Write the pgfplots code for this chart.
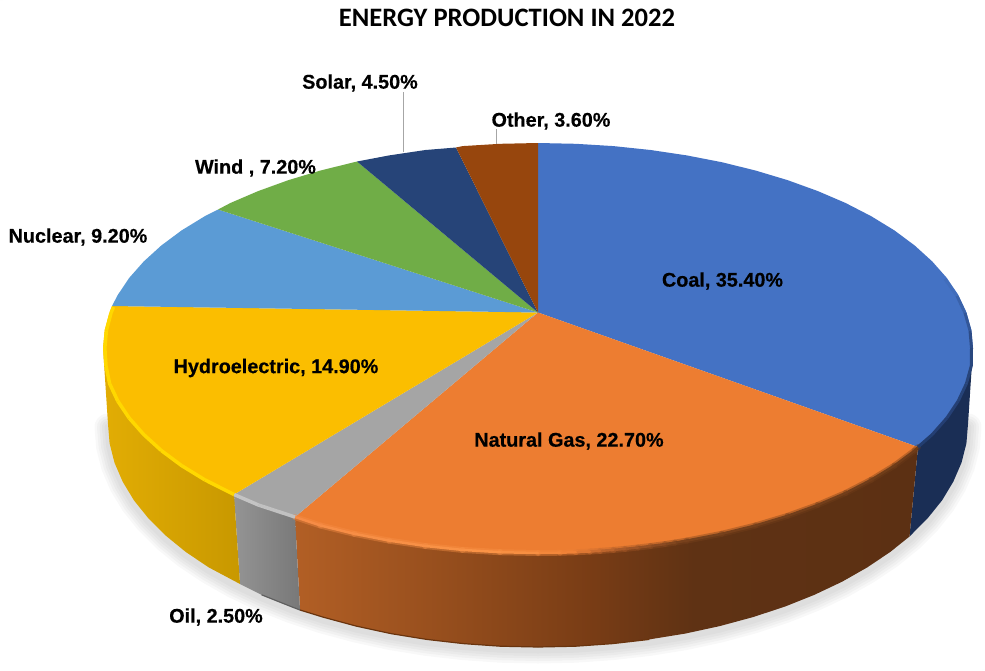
\documentclass[border=0pt]{standalone}
\usepackage{fontspec}
\setmainfont[BoldFeatures={FakeBold=0.4}]{Liberation Sans}
\newfontfamily\titlefont{Carlito}
\usepackage{pgfplots}
\pgfplotsset{compat=1.18}
\definecolor{cCoal}{RGB}{68,114,196}
\definecolor{cGas}{RGB}{237,125,49}
\definecolor{cOil}{RGB}{165,165,165}
\definecolor{cHydro}{RGB}{251,190,0}
\definecolor{cNuc}{RGB}{91,155,213}
\definecolor{cWind}{RGB}{112,173,71}
\definecolor{cSolar}{RGB}{38,68,120}
\definecolor{cOther}{RGB}{151,70,13}
\definecolor{sCoal}{RGB}{26,46,85}
\definecolor{gA}{RGB}{178,95,37}
\definecolor{gB}{RGB}{150,78,29}
\definecolor{gC}{RGB}{120,60,21}
\definecolor{gD}{RGB}{95,50,20}
\definecolor{gE}{RGB}{92,48,19}
\definecolor{nearwhite}{RGB}{254,254,254}
\pgfdeclarehorizontalshading{gasside}{100bp}{color(0bp)=(gA); color(25bp)=(gA); color(37bp)=(gB); color(49bp)=(gC); color(57bp)=(gD); color(75bp)=(gE); color(100bp)=(gE)}
\pgfplotsset{
  colormap={gasrim}{rgb255(0pt)=(246,140,70); rgb255(33pt)=(250,148,70); rgb255(44pt)=(240,130,55); rgb255(48pt)=(205,110,48); rgb255(52pt)=(170,90,40); rgb255(62pt)=(120,65,28); rgb255(100pt)=(110,60,25)},
  colormap={coalrim}{rgb255(0pt)=(68,114,196); rgb255(40pt)=(42,72,128); rgb255(100pt)=(34,60,110)},
  colormap={hydrorim}{rgb255(0pt)=(255,216,0); rgb255(100pt)=(255,216,0)},
  colormap={oilrim}{rgb255(0pt)=(190,190,190); rgb255(50pt)=(205,205,205); rgb255(100pt)=(175,175,175)},
}
\begin{document}
\begin{tikzpicture}
\begin{axis}[
  width=985pt, height=670pt, scale only axis,
  xmin=0, xmax=985, ymin=0, ymax=670, y dir=reverse,
  hide axis,
]
% faint corner ticks hold the full page extent
\addplot[no marks, draw=nearwhite, line width=1pt] coordinates {(0,0.5)(3,0.5)};
\addplot[no marks, draw=nearwhite, line width=1pt] coordinates {(982,669.5)(985,669.5)};
% soft shadow under the pie
\pgfplotsinvokeforeach{27,22,17,12,7}{
\addplot[no marks, draw=black, opacity=0.028, line width=#1pt, line cap=round, yshift=-3pt] coordinates {
(968,424)(966.4,443.4)(961.5,462.7)(953.3,481.7)(942.1,500.3)(927.7,518.2)(910.4,535.5)(890.3,551.9)(867.4,567.3)(842.1,581.7)(814.4,594.8)(784.6,606.7)(753,617.1)(719.7,626.1)(685.1,633.6)(649.3,639.4)(612.6,643.6)(575.5,646.2)(538,647)(500.5,646.2)(463.4,643.6)(426.7,639.4)(390.9,633.6)(356.3,626.1)(323,617.1)(291.4,606.7)(261.6,594.8)(233.9,581.7)(208.6,567.3)(185.7,551.9)(165.6,535.5)(148.3,518.2)(133.9,500.3)(122.7,481.7)(114.5,462.7)(109.6,443.4)(108,424)
};
}
% side walls
\addplot[draw=none, fill=sCoal] coordinates {
(973,348)(971.3,365.9)(966.4,383.6)(958.2,401.1)(946.8,418.1)(932.2,434.6)(918,447)(909.5,536.5)(927.7,518.2)(942.1,500.3)(953.3,481.7)(961.5,462.7)(966.4,443.4)(968,424)
};
\addplot[draw=none, shading=gasside] coordinates {
(918,447)(914.7,450.5)(894.4,465.6)(871.2,479.8)(845.6,493)(817.6,505)(787.5,515.9)(755.5,525.5)(721.8,533.8)(686.8,540.6)(650.6,546)(613.5,549.9)(575.9,552.2)(538,553)(500.1,552.2)(462.5,549.9)(425.4,546)(389.2,540.6)(354.2,533.8)(320.5,525.5)(295,517)(300,610)(323,617.1)(356.3,626.1)(390.9,633.6)(426.7,639.4)(463.4,643.6)(500.5,646.2)(538,647)(575.5,646.2)(612.6,643.6)(649.3,639.4)(685.1,633.6)(719.7,626.1)(753,617.1)(784.6,606.7)(814.4,594.8)(842.1,581.7)(867.4,567.3)(890.3,551.9)(909.5,536.5)
};
\addplot[draw=none, left color={rgb,255:red,148;green,148;blue,148}, right color={rgb,255:red,120;green,120;blue,120}] coordinates {
(295,517)(258.4,505)(234,494.5)(240,584)(261.6,594.8)(291.4,606.7)(300,610)
};
\addplot[draw=none, left color={rgb,255:red,226;green,173;blue,4}, right color={rgb,255:red,200;green,152;blue,0}] coordinates {
(234,494.5)(204.8,479.8)(181.6,465.6)(161.3,450.5)(143.8,434.6)(129.2,418.1)(117.8,401.1)(109.6,383.6)(104.7,365.9)(103,348)(108,424)(109.6,443.4)(114.5,462.7)(122.7,481.7)(133.9,500.3)(148.3,518.2)(165.6,535.5)(185.7,551.9)(208.6,567.3)(240,584)
};
% darker lower edge of the wall
\addplot[no marks, draw={rgb,255:red,105;green,52;blue,14}, line width=1.2pt] coordinates {
(300,610)(323,617.1)(356.3,626.1)(390.9,633.6)(426.7,639.4)(463.4,643.6)(500.5,646.2)(538,647)(575.5,646.2)(612.6,643.6)(649.3,639.4)
};
\addplot[no marks, draw={rgb,255:red,95;green,95;blue,95}, line width=1.2pt] coordinates {
(261.6,594.8)(291.4,606.7)(300,610)
};
% top faces
\addplot[draw=none, fill=cCoal] coordinates {
(538,312.5)(538,143)(575.9,143.8)(613.5,146.1)(650.6,150)(686.8,155.4)(721.8,162.2)(755.5,170.5)(787.5,180.1)(817.6,191)(845.6,203)(871.2,216.2)(894.4,230.4)(914.7,245.5)(932.2,261.4)(946.8,277.9)(958.2,294.9)(966.4,312.4)(971.3,330.1)(973,348)(971.3,365.9)(966.4,383.6)(958.2,401.1)(946.8,418.1)(932.2,434.6)(918,447)
};
\addplot[draw=none, fill=cGas] coordinates {
(538,312.5)(918,447)(914.7,450.5)(894.4,465.6)(871.2,479.8)(845.6,493)(817.6,505)(787.5,515.9)(755.5,525.5)(721.8,533.8)(686.8,540.6)(650.6,546)(613.5,549.9)(575.9,552.2)(538,553)(500.1,552.2)(462.5,549.9)(425.4,546)(389.2,540.6)(354.2,533.8)(320.5,525.5)(295,517)
};
\addplot[draw=none, fill=cOil] coordinates {
(538,312.5)(295,517)(258.4,505)(234,494.5)
};
\addplot[draw=none, fill=cHydro] coordinates {
(538,312.5)(234,494.5)(204.8,479.8)(181.6,465.6)(161.3,450.5)(143.8,434.6)(129.2,418.1)(117.8,401.1)(109.6,383.6)(104.7,365.9)(103,348)(104.7,330.1)(109.6,312.4)(112,306)
};
\addplot[draw=none, fill=cNuc] coordinates {
(538,312.5)(112,306)(117.8,294.9)(129.2,277.9)(143.8,261.4)(161.3,245.5)(181.6,230.4)(204.8,216.2)(218,209.5)
};
\addplot[draw=none, fill=cWind] coordinates {
(538,312.5)(218,209.5)(230.4,203)(258.4,191)(288.5,180.1)(320.5,170.5)(357,161.5)
};
\addplot[draw=none, fill=cSolar] coordinates {
(538,312.5)(357,161.5)(389.2,155.4)(425.4,150)(456,147.5)
};
\addplot[draw=none, fill=cOther] coordinates {
(538,312.5)(456,147.5)(462.5,146.1)(500.1,143.8)(538,143)
};
% bevel along the rim
\addplot[mesh, colormap name=gasrim, point meta=x, point meta rel=per plot, line width=6pt, opacity=0.4, line cap=round] coordinates {
(918,447)(914.7,450.5)(894.4,465.6)(871.2,479.8)(845.6,493)(817.6,505)(787.5,515.9)(755.5,525.5)(721.8,533.8)(686.8,540.6)(675,542.6)(665,544.1)(650.6,546)(638,547.5)(625,548.9)(613.5,549.9)(600,550.9)(590,551.5)(575.9,552.2)(560,552.7)(538,553)(500.1,552.2)(462.5,549.9)(425.4,546)(389.2,540.6)(354.2,533.8)(320.5,525.5)(295,517)
};
\addplot[mesh, colormap name=gasrim, point meta=x, point meta rel=per plot, line width=2.5pt, line cap=round] coordinates {
(918,447)(914.7,450.5)(894.4,465.6)(871.2,479.8)(845.6,493)(817.6,505)(787.5,515.9)(755.5,525.5)(721.8,533.8)(686.8,540.6)(675,542.6)(665,544.1)(650.6,546)(638,547.5)(625,548.9)(613.5,549.9)(600,550.9)(590,551.5)(575.9,552.2)(560,552.7)(538,553)(500.1,552.2)(462.5,549.9)(425.4,546)(389.2,540.6)(354.2,533.8)(320.5,525.5)(295,517)
};
\addplot[mesh, colormap name=coalrim, point meta=y, point meta rel=per plot, line width=3pt] coordinates {
(945,279)(957,296)(965,313)(970,330.5)(971.5,348)(971.3,365.9)(966.4,383.6)(958.2,401.1)(946.8,418.1)(932.2,434.6)(918,447)
};
\addplot[mesh, colormap name=oilrim, point meta=x, point meta rel=per plot, line width=3.5pt] coordinates {
(295,517)(258.4,505)(234,494.5)
};
\addplot[mesh, colormap name=hydrorim, point meta=x, point meta rel=per plot, line width=3.5pt] coordinates {
(234,494.5)(204.8,479.8)(181.6,465.6)(161.3,450.5)(143.8,434.6)(129.2,418.1)(117.8,401.1)(109.6,383.6)(106,366)(104.8,348)(106.4,330.5)(111,313)(113.5,307)
};
% leader lines
\addplot[no marks, draw={rgb,255:red,166;green,166;blue,166}, line width=0.9pt] coordinates {(403,92)(403,152)};
\addplot[no marks, draw={rgb,255:red,166;green,166;blue,166}, line width=0.9pt] coordinates {(496,129)(496,144)};
% labels
\tikzset{lab/.style={font=\fontsize{19.8}{22}\selectfont\bfseries, inner sep=0pt, anchor=center}}
\node[lab] at (axis cs:722.5,281) {Coal, 35.40\%};
\node[lab] at (axis cs:569,441) {Natural Gas, 22.70\%};
\node[lab] at (axis cs:276,368) {Hydroelectric, 14.90\%};
\node[lab] at (axis cs:78,237) {Nuclear, 9.20\%};
\node[lab] at (axis cs:255.5,168) {Wind , 7.20\%};
\node[lab] at (axis cs:360,83) {Solar, 4.50\%};
\node[lab] at (axis cs:551,121) {Other, 3.60\%};
\node[lab] at (axis cs:216,617) {Oil, 2.50\%};
\node[inner sep=0pt, font=\titlefont\fontsize{26.6}{28}\selectfont\bfseries] at (axis cs:507,17.5) {ENERGY PRODUCTION IN 2022};
\end{axis}
\end{tikzpicture}
\end{document}
